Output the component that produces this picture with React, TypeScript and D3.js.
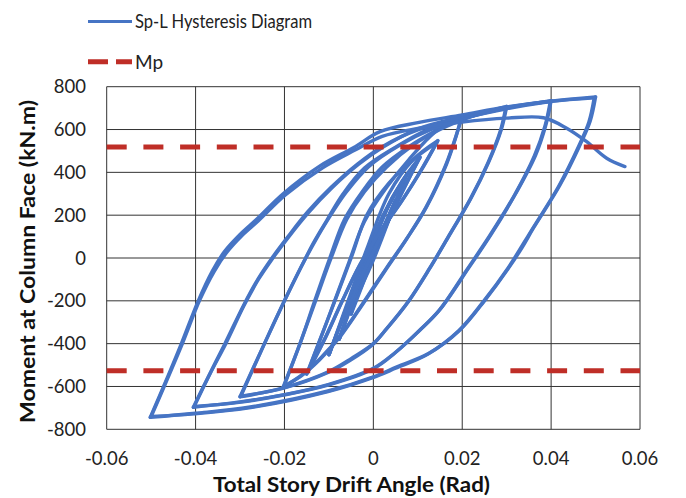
import React from "react";
import * as d3 from "d3";

type Pt = [number, number];

// Axis ticks
const driftTicks = [-0.06, -0.04, -0.02, 0, 0.02, 0.04, 0.06];
const momentTicks = [-800, -600, -400, -200, 0, 200, 400, 600, 800];

// Plastic moment of the beam (kN.m), positive and negative bending
const mpLevels = [518, -526];

// Hysteresis record: [drift angle (rad), moment (kN.m)], grouped by amplitude.
// Each group lists its branches (half cycles) in loading order.
const cycles00375: Pt[][] = [
  [[0, 0], [0.0018, 95], [0.0037, 190]],
  [[0.0037, 190], [0.0015, 90], [0, 20], [-0.002, -85], [-0.0037, -180]],
  [[-0.0037, -180], [-0.0015, -80], [0, -10], [0.002, 95], [0.0037, 188]],
  [[0.0037, 188], [0.0012, 75], [-0.001, -35], [-0.0037, -178]],
];
const cycles005: Pt[][] = [
  [[-0.0037, -178], [-0.002, -95], [0.001, 75], [0.005, 270]],
  [[0.005, 270], [0.002, 120], [-0.002, -60], [-0.005, -262]],
  [[-0.005, -262], [-0.002, -100], [0.001, 80], [0.005, 268]],
  [[0.005, 268], [0.0015, 100], [-0.0025, -85], [-0.005, -258]],
];
const cycles0075: Pt[][] = [
  [[-0.005, -258], [-0.0012, 0], [0.0035, 250], [0.0076, 392]],
  [[0.0076, 392], [0.004, 220], [0, 40], [-0.004, -160], [-0.0077, -380]],
  [[-0.0077, -380], [-0.004, -170], [-0.0012, 0], [0.0035, 245], [0.0075, 388]],
  [[0.0075, 388], [0.0038, 205], [0, 30], [-0.0042, -175], [-0.0076, -376]],
];
const cycles010: Pt[][] = [
  [[-0.0076, -376], [-0.004, -160], [-0.0015, 0], [0.0022, 200], [0.0065, 360], [0.0105, 470]],
  [[0.0105, 470], [0.007, 330], [0.003, 160], [0, 30], [-0.003, -100], [-0.007, -290], [-0.01, -452]],
  [[-0.01, -452], [-0.0055, -200], [-0.002, 0], [0.0022, 195], [0.0065, 355], [0.0103, 466]],
  [[0.0103, 466], [0.0068, 320], [0.0028, 150], [-0.0002, 20], [-0.0035, -120], [-0.0072, -300], [-0.0099, -448]],
];
const cycles015: Pt[][] = [
  [[-0.0099, -448], [-0.0055, -190], [-0.0015, 40], [0.0035, 300], [0.009, 460], [0.0145, 548]],
  [[0.0145, 548], [0.011, 420], [0.0065, 270], [0.0015, 123], [-0.003, -30], [-0.007, -200], [-0.011, -380], [-0.015, -542]],
  [[-0.015, -542], [-0.0105, -300], [-0.005, 0], [-0.0015, 200], [0.0035, 350], [0.009, 460], [0.0143, 540]],
  [[0.0143, 540], [0.0108, 410], [0.0062, 260], [0.0012, 110], [-0.0032, -40], [-0.0072, -210], [-0.0112, -390], [-0.0148, -535]],
];
const cycles020: Pt[][] = [
  [[-0.0148, -535], [-0.0105, -300], [-0.0055, -20], [-0.002, 170], [0.003, 330], [0.008, 460], [0.014, 590], [0.02, 665]],
  [[0.02, 665], [0.0188, 580], [0.0165, 440], [0.012, 240], [0.0075, 90], [0.003, -45], [-0.002, -200], [-0.007, -350], [-0.012, -470], [-0.016, -545], [-0.0203, -603]],
  [[-0.0203, -603], [-0.0165, -400], [-0.0132, -200], [-0.0098, 0], [-0.0065, 180], [-0.0025, 310], [0.002, 425], [0.008, 520], [0.0145, 600], [0.0198, 655]],
  [[0.0198, 655], [0.0186, 570], [0.0162, 430], [0.0118, 235], [0.0072, 80], [0.0028, -55], [-0.0022, -210], [-0.0072, -360], [-0.0122, -478], [-0.0162, -550], [-0.0201, -598]],
];
const cycles030: Pt[][] = [
  [[-0.0201, -598], [-0.0165, -400], [-0.013, -200], [-0.0095, 0], [-0.006, 180], [-0.002, 310], [0.003, 425], [0.009, 528], [0.015, 600], [0.022, 660], [0.03, 708]],
  [[0.03, 708], [0.0288, 600], [0.026, 450], [0.022, 280], [0.0175, 120], [0.0128, -45], [0.008, -200], [0.003, -330], [0, -400], [-0.005, -470], [-0.01, -530], [-0.02, -605], [-0.03, -648]],
  [[-0.03, -648], [-0.0245, -400], [-0.02, -200], [-0.0162, -40], [-0.0135, 70], [-0.0105, 175], [-0.0068, 300], [-0.002, 420], [0.005, 518], [0.012, 598], [0.021, 660], [0.0298, 702]],
  [[0.0298, 702], [0.0286, 595], [0.0258, 445], [0.0218, 275], [0.0173, 115], [0.0126, -50], [0.0078, -205], [0.0028, -335], [-0.0002, -405], [-0.0052, -478], [-0.0102, -535], [-0.0202, -608], [-0.0298, -645]],
];
const cycles040: Pt[][] = [
  [[-0.0298, -645], [-0.0245, -400], [-0.02, -200], [-0.0162, -40], [-0.0132, 75], [-0.0102, 180], [-0.0062, 305], [-0.001, 428], [0.006, 528], [0.013, 600], [0.021, 655], [0.03, 700], [0.04, 735]],
  [[0.04, 735], [0.0388, 620], [0.0365, 480], [0.032, 300], [0.0265, 110], [0.0215, -45], [0.015, -240], [0.0105, -336], [0.005, -440], [0, -515], [-0.01, -590], [-0.02, -638], [-0.03, -672], [-0.0405, -697]],
  [[-0.0405, -697], [-0.0368, -540], [-0.0334, -400], [-0.0293, -225], [-0.026, -100], [-0.0228, 0], [-0.0192, 100], [-0.0148, 215], [-0.0095, 330], [-0.0035, 440], [0.002, 520], [0.01, 598], [0.02, 652], [0.03, 697], [0.0398, 730]],
  [[0.0398, 730], [0.0386, 615], [0.0362, 475], [0.0318, 295], [0.0262, 105], [0.0212, -50], [0.0148, -245], [0.0102, -342], [0.0048, -445], [-0.0002, -520], [-0.0102, -594], [-0.0202, -640], [-0.0302, -674], [-0.0403, -693]],
];
const cycles050: Pt[][] = [
  [[-0.0403, -693], [-0.0366, -535], [-0.0332, -400], [-0.0291, -222], [-0.0258, -98], [-0.0226, 0], [-0.019, 100], [-0.0146, 212], [-0.0093, 328], [-0.0033, 438], [0.0022, 518], [0.01, 603], [0.02, 660], [0.03, 703], [0.04, 732], [0.05, 752]],
  [[0.05, 752], [0.0488, 640], [0.0465, 528], [0.042, 341], [0.036, 139], [0.0335, 50], [0.0305, -45], [0.025, -200], [0.0195, -336], [0.0125, -445], [0.0053, -508], [0, -555], [-0.01, -620], [-0.0277, -696], [-0.04, -725], [-0.0502, -744]],
  [[-0.0502, -744], [-0.0472, -600], [-0.0432, -400], [-0.0394, -200], [-0.0362, -60], [-0.0335, 30], [-0.03, 110], [-0.0262, 182], [-0.0203, 300], [-0.012, 430], [-0.0045, 515], [0.0015, 590], [0.01, 632], [0.02, 668], [0.03, 705], [0.04, 732], [0.0497, 748]],
  [[0.0497, 748], [0.0485, 635], [0.0462, 522], [0.0417, 335], [0.0357, 133], [0.0302, -50], [0.0247, -205], [0.0192, -340], [0.0122, -450], [0.005, -515], [-0.0003, -560], [-0.0102, -624], [-0.028, -700], [-0.0405, -728], [-0.05, -740]],
];
const finalPush: Pt[][] = [
  [[-0.05, -740], [-0.0469, -592], [-0.0429, -396], [-0.0391, -198], [-0.0358, -62], [-0.033, 26], [-0.0296, 104], [-0.0258, 175], [-0.0198, 294], [-0.0115, 420], [-0.004, 505], [0.002, 568], [0.01, 605], [0.02, 635], [0.03, 653], [0.0383, 655], [0.0435, 606], [0.048, 543], [0.0525, 466], [0.0566, 427]],
];

const allBranches: Pt[][] = [
  ...cycles00375, ...cycles005, ...cycles0075, ...cycles010, ...cycles015,
  ...cycles020, ...cycles030, ...cycles040, ...cycles050, ...finalPush,
];

const W = 686;
const H = 498;
const plot = { left: 106.7, right: 640, top: 86.7, bottom: 429.3 };

const BLUE = "#4674c4";
const RED = "#bf2e27";
const GRID = "#333";
const FONT = "Lato, 'Open Sans', sans-serif";

export default function App() {
  const x = d3.scaleLinear().domain([-0.06, 0.06]).range([plot.left, plot.right]);
  const y = d3.scaleLinear().domain([-800, 800]).range([plot.bottom, plot.top]);

  const line = d3
    .line<Pt>()
    .x((d) => x(d[0]))
    .y((d) => y(d[1]))
    .curve(d3.curveCatmullRom.alpha(0.5));

  const fmtDrift = (d: number) => (d === 0 ? "0" : d.toFixed(2));

  return (
    <svg
      width={W}
      height={H}
      viewBox={`0 0 ${W} ${H}`}
      style={{ position: "absolute", left: 0, top: 0, background: "#fff" }}
      fontFamily={FONT}
    >
      <rect x={0} y={0} width={W} height={H} fill="#fff" />

      {/* grid */}
      {driftTicks.map((t) => (
        <line key={`gx${t}`} x1={x(t)} x2={x(t)} y1={plot.top} y2={plot.bottom} stroke={GRID} strokeWidth={1} />
      ))}
      {momentTicks.map((t) => (
        <line key={`gy${t}`} x1={plot.left} x2={plot.right} y1={y(t)} y2={y(t)} stroke={GRID} strokeWidth={1} />
      ))}

      {/* hysteresis curve, one path per half cycle */}
      <g fill="none" stroke={BLUE} strokeWidth={3.4} strokeLinejoin="round" strokeLinecap="round">
        {allBranches.map((b, i) => (
          <path key={`br${i}`} d={line(b) ?? ""} />
        ))}
      </g>

      {/* plastic moment lines */}
      {mpLevels.map((m) => (
        <line
          key={`mp${m}`}
          x1={plot.left}
          x2={plot.right}
          y1={y(m)}
          y2={y(m)}
          stroke={RED}
          strokeWidth={5}
          strokeDasharray="20 16.7"
        />
      ))}

      {/* tick labels */}
      {driftTicks.map((t) => (
        <text key={`tx${t}`} x={x(t)} y={465} textAnchor="middle" fontSize={18.5} fill="#222">
          {fmtDrift(t)}
        </text>
      ))}
      {momentTicks.map((t) => (
        <text key={`ty${t}`} x={86} y={y(t) + 6.5} textAnchor="end" fontSize={18.5} fill="#222">
          {t}
        </text>
      ))}

      {/* axis titles */}
      <text
        x={351.5}
        y={492}
        textAnchor="middle"
        fontSize={21}
        fontWeight="bold"
        fill="#111"
        textLength={277}
        lengthAdjust="spacingAndGlyphs"
      >
        Total Story Drift Angle (Rad)
      </text>
      <text
        transform={`translate(35, 261.5) rotate(-90)`}
        textAnchor="middle"
        fontSize={21}
        fontWeight="bold"
        fill="#111"
        textLength={323}
        lengthAdjust="spacingAndGlyphs"
      >
        Moment at Column Face (kN.m)
      </text>

      {/* legend */}
      <line x1={88} x2={132} y1={21.5} y2={21.5} stroke={BLUE} strokeWidth={3} />
      <text x={135} y={28} fontSize={19} fill="#222" textLength={177} lengthAdjust="spacingAndGlyphs">
        Sp-L Hysteresis Diagram
      </text>
      <line x1={88} x2={132} y1={61.7} y2={61.7} stroke={RED} strokeWidth={5} strokeDasharray="20 8" />
      <text x={135} y={69} fontSize={19} fill="#222">Mp</text>
    </svg>
  );
}
